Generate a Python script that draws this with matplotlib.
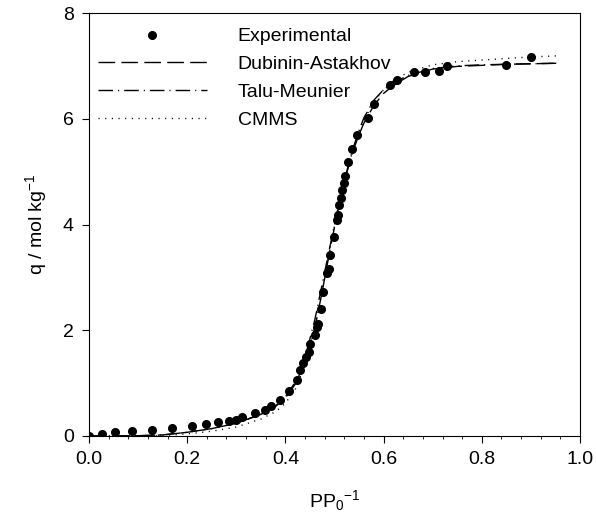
import numpy as np
import matplotlib.pyplot as plt

plt.rcParams['font.family'] = ['Liberation Sans', 'DejaVu Sans']
plt.rcParams['mathtext.default'] = 'regular'

# Experimental isotherm points
x_exp = [0.0, 0.027, 0.053, 0.088, 0.129, 0.170, 0.209, 0.238, 0.263, 0.285,
         0.299, 0.312, 0.339, 0.358, 0.370, 0.390, 0.407, 0.423, 0.430, 0.436,
         0.442, 0.448, 0.451, 0.460, 0.465, 0.467, 0.472, 0.477, 0.485, 0.488,
         0.490, 0.498, 0.506, 0.508, 0.510, 0.513, 0.516, 0.520, 0.521, 0.528,
         0.536, 0.546, 0.568, 0.580, 0.613, 0.627, 0.661, 0.684, 0.713, 0.730,
         0.849, 0.900]
q_exp = [0.0, 0.04, 0.07, 0.09, 0.11, 0.15, 0.18, 0.22, 0.26, 0.29,
         0.31, 0.35, 0.43, 0.50, 0.56, 0.68, 0.85, 1.05, 1.24, 1.38,
         1.50, 1.59, 1.74, 1.91, 2.06, 2.12, 2.40, 2.73, 3.08, 3.15,
         3.42, 3.76, 4.09, 4.18, 4.37, 4.50, 4.65, 4.79, 4.92, 5.18,
         5.42, 5.70, 6.01, 6.28, 6.64, 6.73, 6.88, 6.88, 6.90, 7.00,
         7.02, 7.16]

# Model curves
x_fit = [0, 0.05, 0.10, 0.15, 0.20, 0.25, 0.30, 0.35, 0.38, 0.40, 0.42, 0.44,
         0.46, 0.47, 0.48, 0.49, 0.50, 0.51, 0.52, 0.53, 0.54, 0.55, 0.56,
         0.58, 0.60, 0.62, 0.65, 0.70, 0.75, 0.80, 0.85, 0.90, 0.955]
q_da = [0, 0, 0.005, 0.02, 0.07, 0.14, 0.24, 0.41, 0.56, 0.72, 0.98, 1.40,
        2.05, 2.50, 2.98, 3.48, 3.95, 4.40, 4.80, 5.15, 5.45, 5.70, 5.92,
        6.25, 6.48, 6.63, 6.80, 6.94, 6.99, 7.01, 7.03, 7.04, 7.05]
q_tm = [0, 0, 0.005, 0.02, 0.07, 0.14, 0.24, 0.41, 0.57, 0.74, 1.02, 1.48,
        2.20, 2.65, 3.10, 3.55, 4.00, 4.43, 4.82, 5.18, 5.50, 5.78, 6.02,
        6.35, 6.55, 6.68, 6.82, 6.95, 7.00, 7.02, 7.03, 7.04, 7.05]
q_cmms = [0, 0, 0.003, 0.01, 0.04, 0.09, 0.17, 0.32, 0.46, 0.62, 0.88, 1.35,
          2.05, 2.52, 3.00, 3.50, 3.97, 4.42, 4.82, 5.17, 5.48, 5.74, 5.97,
          6.32, 6.55, 6.72, 6.88, 7.02, 7.08, 7.11, 7.14, 7.17, 7.19]

fig = plt.figure(figsize=(5.96, 5.32), dpi=100)
ax = fig.add_axes([89 / 596, 96 / 532, 491 / 596, 423 / 532])

ax.plot(x_exp, q_exp, 'o', color='black', ms=5.5, label='Experimental')
ax.plot(x_fit, q_da, color='black', lw=1.0, dashes=(12, 4.5),
        label='Dubinin-Astakhov')
ax.plot(x_fit, q_tm, color='black', lw=1.0, dashes=(10.5, 3.6, 0.8, 3.6),
        label='Talu-Meunier')
ax.plot(x_fit, q_cmms, color='black', lw=1.0, dashes=(0.8, 4),
        label='CMMS')

ax.set_xlim(0, 1.0)
ax.set_ylim(0, 8)
ax.set_xticks(np.arange(0, 1.01, 0.2))
ax.set_xticks(np.arange(0, 1.001, 0.04), minor=True)
ax.set_yticks([0, 2, 4, 6, 8])
ax.set_xticklabels(['0.0', '0.2', '0.4', '0.6', '0.8', '1.0'])
ax.tick_params(axis='both', which='major', direction='out', length=5,
               width=0.8, labelsize=14, pad=6)
ax.tick_params(axis='x', which='minor', direction='out', length=2.5, width=0.6)
for s in ax.spines.values():
    s.set_linewidth(0.8)

ax.set_xlabel(r'PP$_0$$^{-1}$', fontsize=14, labelpad=14)
ax.set_ylabel(r'q / mol kg$^{-1}$', fontsize=14, labelpad=10)

ax.legend(loc='upper left', bbox_to_anchor=(-0.014, 1.002), frameon=False,
          fontsize=14, numpoints=1, handlelength=5.6, handletextpad=1.6,
          labelspacing=0.53, borderaxespad=0.4)

fig.savefig('out.png', dpi=100)
